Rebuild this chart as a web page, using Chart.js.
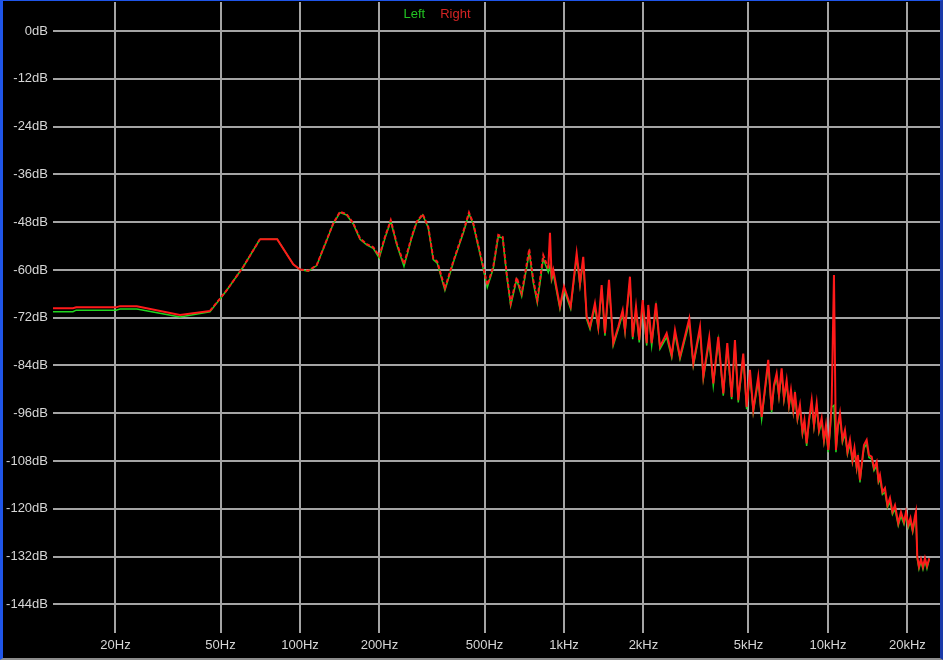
<!DOCTYPE html>
<html>
<head>
<meta charset="utf-8">
<script src="https://cdn.jsdelivr.net/npm/chart.js@4.4.0/dist/chart.umd.min.js"></script>
<style>
	html, body { margin: 0; padding: 0; background: #000; }
	#frame {
		width: 943px; height: 660px; box-sizing: border-box; background: #000;
		border-left: 3px solid #1f55e8; border-top: 1px solid #1f55e8;
		border-right: 3px solid #1a3aa8; border-bottom: 2px solid #8c8c8c;
	}
	canvas { display: block; }
</style>
</head>
<body>
<div id="frame"><canvas id="spectrum" width="937" height="657"></canvas></div>
<script>
// Frequencies (Hz) shared by both channels
var freqs = [
	11.6, 13.8, 14.2, 20.1, 20.8, 24.1, 35.1, 45.6, 52.8, 61.0,
	70.5, 82.0, 94.3, 100, 107.5, 115.7, 126.2, 133.7, 141.7, 150.3,
	159.2, 168.8, 179, 189.5, 199.7, 209.9, 220.7, 232.5, 247.7, 264.9,
	276.7, 291.6, 306.2, 319.8, 331.1, 354, 380.7, 415.5, 436.7, 453.3,
	487.9, 512.3, 539.8, 563.8, 585.9, 606.7, 628.3, 661.9, 691.5, 738.7,
	765, 792.4, 834.8, 872, 885.1, 898.3, 910.9, 965.6, 1000, 1060,
	1117, 1150, 1183, 1219, 1255, 1310, 1349, 1389, 1430, 1481,
	1537, 1606, 1669, 1703, 1778, 1821, 1874, 1928, 1987, 2058,
	2086, 2149, 2231, 2310, 2449, 2559, 2633, 2751, 2983, 3090,
	3276, 3372, 3551, 3678, 3842, 4013, 4155, 4317, 4443, 4573,
	4777, 4920, 5064, 5212, 5445, 5609, 5940, 6118, 6244, 6391,
	6522, 6676, 6813, 6974, 7117, 7242, 7387, 7499, 7664, 7831,
	8006, 8147, 8304, 8473, 8676, 8851, 9063, 9245, 9465, 9657,
	9827, 10026, 10176, 10328, 10537, 10723, 10912, 11104, 11349, 11599,
	11855, 12115, 12382, 12600, 12844, 12990, 13219, 13452, 13689, 14015,
	14299, 14640, 14937, 15293, 15535, 15740, 16087, 16441, 16803, 17174,
	17552, 17939, 18463, 18903, 19404, 19746, 20147, 20537, 20935, 21360,
	21544, 21790, 22117, 22506, 22902, 23306, 23714, 24196
];

var rightDb = [
	-69.6, -69.6, -69.4, -69.4, -69.1, -69.1, -71.3, -70.3, -65.1, -59.2,
	-52.3, -52.3, -58.6, -59.9, -60.2, -58.8, -52.5, -48.3, -45.4, -46.0,
	-48.3, -52.1, -53.5, -54.3, -56.5, -51.7, -47.5, -53.3, -58.5, -51.7,
	-47.9, -46.0, -49.2, -57.1, -57.9, -64.6, -57.9, -50.4, -45.6, -48.3,
	-57.5, -63.8, -59.2, -51.2, -51.7, -60.9, -68.4, -61.9, -65.9, -54.8,
	-62.5, -67.6, -56.3, -59.6, -50.7, -61.7, -60.0, -69.2, -64.2, -69.2,
	-55.8, -63.4, -56.7, -71.8, -74.3, -68.4, -74.3, -63.8, -75.9, -62.5,
	-78.4, -74.3, -70.1, -75.1, -61.7, -76.8, -69.2, -77.6, -67.6, -78.4,
	-68.8, -78.4, -68.4, -79.3, -75.9, -81.4, -75.1, -81.8, -72.2, -83.5,
	-74.3, -86.8, -76.9, -88.5, -76.8, -91.0, -78.4, -91.9, -77.6, -92.7,
	-81.0, -94.4, -85.1, -95.2, -86.8, -96.9, -82.6, -95.2, -88.9, -86.0,
	-91.4, -84.7, -92.2, -87.7, -93.9, -90.2, -95.2, -90.7, -97.2, -93.9,
	-100.7, -97.7, -103.6, -97.7, -92.7, -99.0, -93.5, -100.2, -97.2, -102.7,
	-99.0, -105.2, -100.2, -93.5, -61.3, -105.2, -99.0, -96.0, -102.7, -100.2,
	-105.7, -102.7, -107.8, -104.7, -109.4, -106.5, -112.8, -108.2, -104.0, -102.7,
	-106.5, -106.9, -109.8, -108.2, -112.8, -111.5, -115.8, -114.8, -119.1, -117.3,
	-120.8, -119.1, -123.6, -120.8, -123.3, -120.8, -124.1, -122.3, -125.3, -121.8,
	-120.7, -132.0, -134.5, -132.6, -134.6, -132.4, -134.4, -132.4
];

var leftDb = [
	-70.5, -70.5, -70.1, -70.1, -69.8, -69.8, -71.8, -70.5, -65.1, -59.2,
	-52.3, -52.3, -58.6, -59.9, -60.3, -58.9, -52.6, -48.4, -45.6, -46.2,
	-48.5, -52.3, -53.7, -54.6, -57.0, -52.0, -47.8, -53.6, -59.1, -52.0,
	-48.1, -46.2, -49.4, -57.4, -58.3, -65.1, -58.2, -50.7, -45.9, -48.6,
	-57.9, -64.4, -59.6, -51.6, -52.0, -61.3, -69.0, -62.4, -66.6, -55.6,
	-63.2, -68.3, -57.2, -60.6, -59.0, -62.6, -61.0, -69.8, -65.0, -69.8,
	-56.8, -64.0, -57.7, -72.4, -74.9, -69.4, -74.9, -64.8, -76.5, -63.5,
	-79.0, -74.9, -71.1, -75.7, -62.7, -77.4, -70.2, -78.2, -68.6, -79.0,
	-69.8, -79.0, -69.4, -79.9, -76.9, -82.0, -76.1, -82.4, -73.2, -84.1,
	-75.3, -87.4, -77.9, -89.1, -77.8, -91.6, -79.4, -92.5, -78.6, -93.3,
	-82.0, -95.0, -86.1, -95.8, -87.8, -97.5, -83.6, -95.8, -89.5, -87.0,
	-92.0, -85.7, -92.8, -88.7, -94.5, -91.2, -95.8, -91.7, -97.8, -94.9,
	-101.3, -98.7, -104.2, -98.3, -93.7, -99.6, -94.5, -100.8, -98.2, -103.3,
	-100.0, -105.8, -100.8, -94.5, -94.0, -105.8, -99.6, -97.0, -103.3, -101.2,
	-106.3, -103.7, -108.4, -105.7, -110.0, -107.5, -113.4, -108.8, -104.8, -103.7,
	-107.1, -107.5, -110.4, -109.2, -113.4, -112.5, -116.4, -115.8, -119.7, -118.3,
	-121.4, -120.1, -124.2, -121.8, -123.9, -121.8, -124.7, -123.3, -125.9, -122.8,
	-121.7, -132.6, -135.1, -133.2, -135.2, -133.0, -135.0, -132.6
];

var seriesNames = ['Left', 'Right'];
var seriesColors = ['#1fd61f', '#ff1a1a'];
var legendColors = ['#22c322', '#d42424'];

// Frequency bands where both channels overlap and the trace looks dotted
var overlapBands = [[45, 66], [95, 860]];

var yTickValues = [0, -12, -24, -36, -48, -60, -72, -84, -96, -108, -120, -132, -144];
var xTickValues = [20, 50, 100, 200, 500, 1000, 2000, 5000, 10000, 20000];
var xTickLabels = ['20Hz', '50Hz', '100Hz', '200Hz', '500Hz', '1kHz', '2kHz', '5kHz', '10kHz', '20kHz'];

var labelFont = {family: '"Liberation Sans", Arial, sans-serif', size: 13};
var gridColor = '#a4a4a4';
var textColor = '#d6d6d6';

function toPoints(values) {
	return freqs.map(function(f, i) {
		return {x: f, y: values[i]};
	});
}

function inOverlapBand(f) {
	return overlapBands.some(function(band) {
		return f >= band[0] && f < band[1];
	});
}

//No label padding at the plot edges, the grid runs right to the frame
function noEdgePadding(scale) {
	scale.paddingTop = 0;
	scale.paddingBottom = 0;
	scale.paddingLeft = 0;
	scale.paddingRight = 0;
}

// Channel names drawn centred above the plot in their own colours
var channelLegend = {
	id: 'channelLegend',
	afterDraw: function(chart) {
		var ctx = chart.ctx,
			gap = 15,
			widths = [],
			total = 0;

		ctx.save();
		ctx.font = labelFont.size + 'px ' + labelFont.family;
		ctx.textBaseline = 'middle';

		seriesNames.forEach(function(name) {
			var w = ctx.measureText(name).width;
			widths.push(w);
			total += w;
		});
		total += gap * (seriesNames.length - 1);

		var x = 434 - total / 2;
		seriesNames.forEach(function(name, i) {
			ctx.fillStyle = legendColors[i];
			ctx.fillText(name, x, 13);
			x += widths[i] + gap;
		});
		ctx.restore();
	}
};

new Chart(document.getElementById('spectrum'), {
	type: 'line',
	data: {
		datasets: [
			{
				label: seriesNames[0],
				data: toPoints(leftDb),
				borderColor: seriesColors[0],
				borderWidth: 1.5,
				pointRadius: 0,
				tension: 0,
				order: 1
			},
			{
				label: seriesNames[1],
				data: toPoints(rightDb),
				borderColor: seriesColors[1],
				borderWidth: 2,
				pointRadius: 0,
				tension: 0,
				order: 0,
				segment: {
					borderDash: function(ctx) {
						return inOverlapBand(ctx.p0.parsed.x) ? [4, 2] : undefined;
					}
				}
			}
		]
	},
	options: {
		responsive: false,
		animation: false,
		layout: {
			padding: {top: 1, left: 0, right: 0, bottom: 0}
		},
		plugins: {
			legend: {display: false},
			tooltip: {enabled: false}
		},
		scales: {
			x: {
				type: 'logarithmic',
				min: 11.6,
				max: 26570,
				afterBuildTicks: function(scale) {
					scale.ticks = xTickValues.map(function(v) {
						return {value: v};
					});
				},
				afterFit: function(scale) {
					scale.height = 25;
					noEdgePadding(scale);
				},
				grid: {color: gridColor, lineWidth: 2, drawTicks: false},
				border: {display: false},
				ticks: {
					color: textColor,
					font: labelFont,
					padding: 5,
					autoSkip: false,
					maxRotation: 0,
					callback: function(value) {
						return xTickLabels[xTickValues.indexOf(value)];
					}
				}
			},
			y: {
				min: -151.2,
				max: 7.3,
				afterBuildTicks: function(scale) {
					scale.ticks = yTickValues.map(function(v) {
						return {value: v};
					});
				},
				afterFit: function(scale) {
					scale.width = 50;
					noEdgePadding(scale);
				},
				grid: {color: gridColor, lineWidth: 2, drawTicks: false},
				border: {display: false},
				ticks: {
					color: textColor,
					font: labelFont,
					padding: 5,
					callback: function(value) {
						return value + 'dB';
					}
				}
			}
		}
	},
	plugins: [channelLegend]
});
</script>
</body>
</html>
